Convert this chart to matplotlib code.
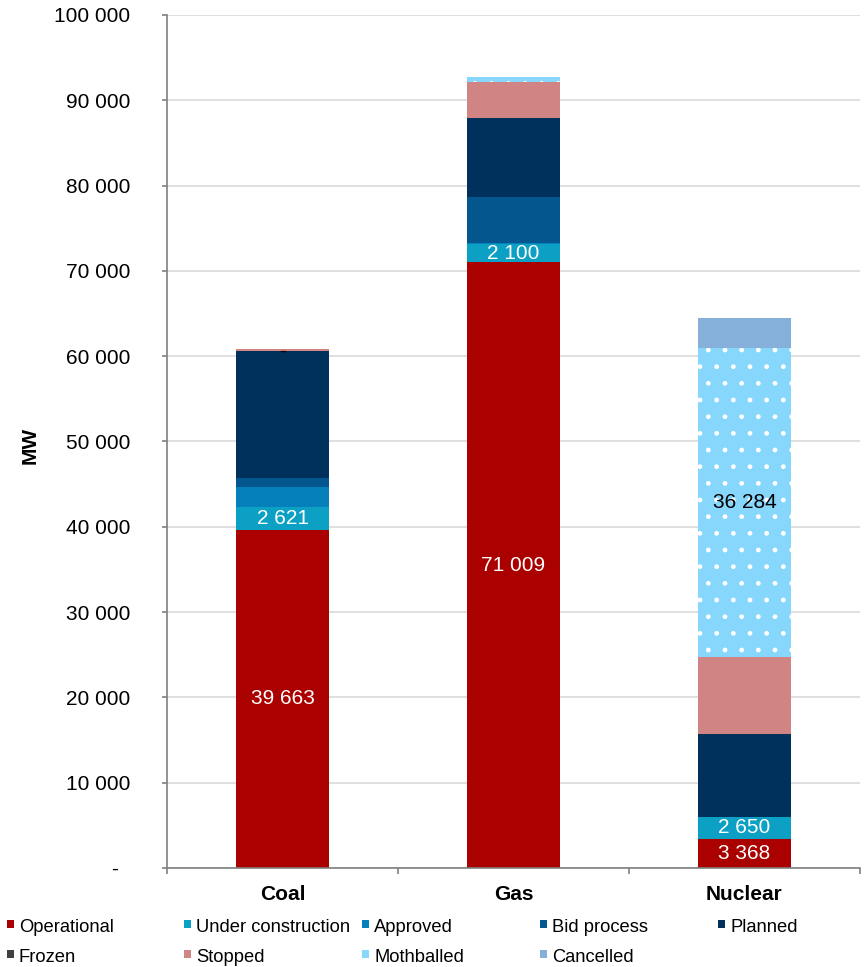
import matplotlib
matplotlib.use("Agg")
import matplotlib.pyplot as plt
from matplotlib.patches import Rectangle
import numpy as np

plt.rcParams["font.family"] = ["Liberation Sans", "DejaVu Sans"]

# Capacity by fuel type and project status, MW
categories = ["Coal", "Gas", "Nuclear"]
statuses = ["Operational", "Under construction", "Approved", "Bid process",
            "Planned", "Frozen", "Stopped", "Mothballed", "Cancelled"]
operational = [39663, 71009, 3368]
under_construction = [2621, 2100, 2650]
approved = [2350, 200, 0]
bid_process = [1130, 5310, 0]
planned = [14800, 9340, 9650]
frozen = [0, 0, 0]
stopped = [300, 4180, 9030]
mothballed = [0, 625, 36284]
cancelled = [0, 0, 3520]

y_ticks = [0, 10000, 20000, 30000, 40000, 50000, 60000, 70000, 80000, 90000, 100000]

series = [operational, under_construction, approved, bid_process, planned,
          frozen, stopped, mothballed, cancelled]
colors = ["#AA0000", "#0BA0C4", "#0680BA", "#04568E", "#00305C",
          "#404040", "#D08484", "#87D7FD", "#85B0DA"]

# Which segments carry a value label, and in what text colour
labelled = {
    ("Operational", 0): "white", ("Operational", 1): "white", ("Operational", 2): "white",
    ("Under construction", 0): "white", ("Under construction", 1): "white",
    ("Under construction", 2): "white",
    ("Mothballed", 2): "black",
    ("Frozen", 0): "black",
}


def fmt(v):
    return "-" if v == 0 else f"{v:,}".replace(",", " ")


def fmt_axis(v):
    # accounting style: zero shown as a padded dash
    return "-  " if v == 0 else fmt(v)


fig = plt.figure(figsize=(8.66, 9.67), dpi=100)
ax = fig.add_axes([0.193, 0.1024, 0.8, 0.8821])

x = np.arange(len(categories))
width = 0.4
bottom = np.zeros(len(categories))
for name, vals, col in zip(statuses, series, colors):
    vals = np.array(vals, dtype=float)
    kw = dict(color=col, linewidth=0)
    if name == "Mothballed":
        kw.update(hatch=".", edgecolor="white")
    ax.bar(x, vals, width, bottom=bottom, zorder=2, **kw)
    for i in range(len(categories)):
        key = (name, i)
        if key in labelled:
            ax.text(x[i], bottom[i] + vals[i] / 2, fmt(int(vals[i])),
                    ha="center", va="center", fontsize=15,
                    color=labelled[key], zorder=3)
    bottom += vals

ax.set_xlim(-0.5, 2.5)
ax.set_ylim(0, 100000)
ax.set_yticks(y_ticks)
ax.set_yticklabels([fmt_axis(v) for v in y_ticks], fontsize=15)
ax.yaxis.grid(True, color="#D9D9D9", linewidth=1.2, zorder=0)
ax.set_axisbelow(True)

# Category ticks sit at the boundaries, names in the middle
ax.set_xticks([-0.5, 0.5, 1.5, 2.5])
ax.set_xticklabels([])
ax.set_xticks(x, minor=True)
ax.set_xticklabels(categories, minor=True, fontsize=15, fontweight="bold")
ax.tick_params(axis="x", which="minor", length=0, pad=12)
ax.tick_params(axis="x", which="major", length=4, color="#808080", width=1.2)
ax.tick_params(axis="y", length=3.6, color="#808080", width=1.2, pad=23)

for s in ["top", "right"]:
    ax.spines[s].set_visible(False)
for s in ["left", "bottom"]:
    ax.spines[s].set_color("#808080")
    ax.spines[s].set_linewidth(1.2)

fig.text(30 / 866, 1 - 445 / 967, "MW", rotation=90, ha="center", va="center",
         fontsize=15, fontweight="bold")

# Legend laid out on a fixed grid of five columns
W, H = 866, 967
col_x = [7, 184, 362, 540, 718]
row_y = [925, 955]
for k, (name, col) in enumerate(zip(statuses, colors)):
    r, c = divmod(k, 5)
    mx, my = col_x[c], row_y[r]
    fig.add_artist(Rectangle((mx / W, 1 - (my + 3) / H), 7 / W, 8 / H,
                             transform=fig.transFigure, facecolor=col,
                             edgecolor="none"))
    fig.text((mx + 12) / W, 1 - (my + 2) / H, name, ha="left", va="center",
             fontsize=13.2)

fig.savefig("out.png", dpi=100)
